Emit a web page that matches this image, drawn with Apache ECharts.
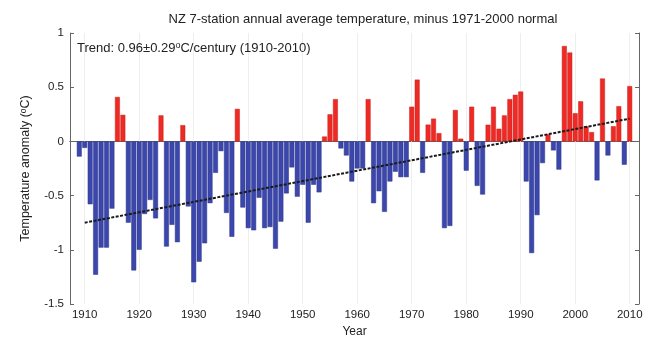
<!DOCTYPE html>
<html>
<head>
<meta charset="utf-8">
<script src="https://cdn.jsdelivr.net/npm/echarts@6/dist/echarts.min.js"></script>
<style>
  html, body { margin: 0; padding: 0; background: #fff; }
  #chart { width: 647px; height: 337px; }
</style>
</head>
<body>
<div id="chart"></div>
<script>
// NZ 7-station series: annual anomaly (°C) relative to the 1971-2000 normal
const firstYear = 1909;
const anomalies = [
  -0.14, -0.06, -0.58, -1.23, -0.98, -0.98, -0.62, 0.41, 0.245, -0.75,   // 1909-1918
  -1.19, -1.00, -0.67, -0.54, -0.71, 0.24, -0.97, -0.77, -0.93, 0.15,    // 1919-1928
  -0.60, -1.30, -1.11, -0.94, -0.57, -0.29, -0.09, -0.66, -0.88, 0.30,   // 1929-1938
  -0.61, -0.80, -0.82, -0.52, -0.80, -0.79, -0.99, -0.74, -0.48, -0.24,  // 1939-1948
  -0.51, -0.40, -0.75, -0.40, -0.47, 0.045, 0.25, 0.39, -0.065, -0.13,   // 1949-1958
  -0.37, -0.25, -0.25, 0.39, -0.57, -0.46, -0.65, -0.37, -0.28, -0.33,   // 1959-1968
  -0.33, 0.32, 0.57, -0.29, 0.155, 0.21, 0.076, -0.80, -0.78, 0.29,      // 1969-1978
  0.025, -0.27, 0.32, -0.41, -0.49, 0.154, 0.32, 0.117, 0.24, 0.39,      // 1979-1988
  0.43, 0.46, -0.37, -1.03, -0.68, -0.20, 0.065, -0.083, -0.26, 0.88,    // 1989-1998
  0.82, 0.26, 0.37, 0.14, 0.086, -0.36, 0.58, -0.13, 0.14, 0.325,        // 1999-2008
  -0.215, 0.51                                                           // 2009-2010
];
const years = anomalies.map((_, i) => firstYear + i);

// linear trend, 0.96 °C per century over 1910-2010
const trendYears = [1910, 2010];
const trendValues = [-0.75, 0.21];

const decadeTicks = [1910, 1920, 1930, 1940, 1950, 1960, 1970, 1980, 1990, 2000, 2010];

const WARM = '#ef2a24', WARM_EDGE = '#c4231e';
const COOL = '#3b47ac', COOL_EDGE = '#2d3788';
const FONT = '"Liberation Sans", Arial, sans-serif';
const X_MIN = 1907.3, X_MAX = 2011.7;

const chart = echarts.init(document.getElementById('chart'), null, { renderer: 'canvas' });

const xBase = {
  type: 'value', min: X_MIN, max: X_MAX,
  axisLine: { lineStyle: { color: '#666', width: 1 } },
  axisTick: { inside: true, length: 4, customValues: decadeTicks, lineStyle: { color: '#666' } },
  splitLine: { show: false }
};
const yBase = {
  type: 'value', min: -1.5, max: 1, interval: 0.5,
  axisLine: { show: true, lineStyle: { color: '#666', width: 1 } },
  axisTick: { inside: true, length: 4, lineStyle: { color: '#666' } },
  splitLine: { show: false }
};

// each year's bar is coloured by the sign of its anomaly
const barData = years.map((y, i) => {
  const warm = anomalies[i] >= 0;
  return {
    value: [y, anomalies[i]],
    itemStyle: {
      color: warm ? WARM : COOL,
      borderColor: warm ? WARM_EDGE : COOL_EDGE,
      borderWidth: 0.5
    }
  };
});

chart.setOption({
  animation: false,
  backgroundColor: '#fff',
  textStyle: { fontFamily: FONT },
  title: {
    text: 'NZ 7-station annual average temperature, minus 1971-2000 normal',
    left: 358, top: 8, textAlign: 'center',
    textStyle: { fontFamily: FONT, fontSize: 13, fontWeight: 'normal', color: '#222' }
  },
  grid: { left: 70, top: 33, width: 569, height: 271, outerBoundsMode: 'none', containLabel: false },
  graphic: [{
    type: 'text', left: 77, top: 41, z: 10,
    style: {
      text: 'Trend: 0.96±0.29{sup|o}C/century (1910-2010)',
      font: '13px ' + FONT, fill: '#222',
      rich: { sup: { fontSize: 9, verticalAlign: 'top', lineHeight: 15, fill: '#222', fontFamily: FONT } }
    }
  }],
  xAxis: [
    Object.assign({}, xBase, {
      position: 'bottom',
      name: 'Year', nameLocation: 'middle', nameGap: 21,
      nameTextStyle: { fontFamily: FONT, fontSize: 12, color: '#222' },
      axisLabel: { customValues: decadeTicks, formatter: v => String(v), fontFamily: FONT, fontSize: 11.5, color: '#222', margin: 5 }
    }),
    Object.assign({}, xBase, { position: 'top', axisLabel: { show: false } })
  ],
  yAxis: [
    Object.assign({}, yBase, {
      position: 'left',
      name: 'Temperature anomaly ({sup|o}C)', nameLocation: 'middle', nameGap: 37, nameRotate: 90,
      nameTextStyle: {
        fontFamily: FONT, fontSize: 12.5, color: '#222',
        rich: { sup: { fontSize: 8.5, verticalAlign: 'top', lineHeight: 14, color: '#222', fontFamily: FONT } }
      },
      axisLabel: { fontFamily: FONT, fontSize: 11.5, color: '#222', margin: 6 }
    }),
    Object.assign({}, yBase, { position: 'right', axisLabel: { show: false } })
  ],
  series: [
    {
      // faint decade grid lines, kept on the bottom layer
      type: 'line', data: [], silent: true, zlevel: 0, z: 0,
      markLine: {
        silent: true, symbol: 'none', label: { show: false },
        lineStyle: { color: '#eeeeee', width: 1, type: 'solid' },
        data: decadeTicks.map(v => ({ xAxis: v }))
      }
    },
    {
      type: 'bar', barWidth: 4.9, zlevel: 1, z: 2,
      data: barData
    },
    {
      type: 'line', zlevel: 1, z: 5, symbol: 'none', silent: true,
      data: trendYears.map((y, i) => [y, trendValues[i]]),
      lineStyle: { color: '#1b1b1b', width: 2, type: [3, 1.5] }
    }
  ]
});
</script>
</body>
</html>
